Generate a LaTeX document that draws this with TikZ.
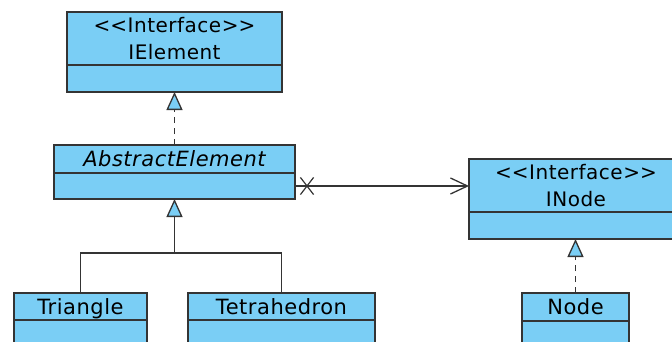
\documentclass[tikz,border=0pt]{standalone}
\usepackage{fontspec}
\setmainfont{DejaVu Sans}[LetterSpace=2.5]
\usepackage{tikz}
\usetikzlibrary{positioning,calc,arrows.meta,shapes.misc}
\definecolor{umlBlue}{RGB}{122,206,245}
\definecolor{umlLine}{RGB}{52,52,52}
\newcommand{\umlFont}{\fontsize{21}{26}\selectfont}
\newcommand{\umlStereoFont}{\fontsize{20}{27}\selectfont}
\newcommand{\stereo}{<\kern0pt<Interface>\kern0pt>}

\begin{document}
\begin{tikzpicture}[x=1pt, y=-1pt,
		classhead/.style={draw=umlLine, fill=umlBlue, line width=1.4pt, inner sep=0pt, outer sep=0pt, align=center, font=\umlFont, text height=15.5pt, text depth=0pt},
		interfacehead/.style={classhead, font=\umlStereoFont, text height=, text depth=},
		classbody/.style={draw=umlLine, fill=umlBlue, line width=1.4pt, inner sep=0pt, outer sep=0pt, below=0pt of #1},
		umlline/.style={draw=umlLine, line width=1.3pt},
		realize/.style={umlline, dash pattern=on 6pt off 5pt, -{Triangle[fill=umlBlue, length=18pt, width=16pt]}},
		inherit/.style={umlline, -{Triangle[fill=umlBlue, length=18pt, width=16pt]}},
		navigable/.style={umlline, -{Straight Barb[length=17pt, width=16pt]}},
		nonav/.style={cross out, draw=umlLine, line width=1.2pt, minimum width=12pt, minimum height=16pt, inner sep=0pt}]
	\useasboundingbox (0,0) rectangle (672,341);
	%interfaces
	\node[interfacehead, minimum width=215pt, minimum height=53pt] (ielement) at (174.5,38.5) {\stereo\\IElement};
	\node[classbody=ielement, minimum width=215pt, minimum height=27pt] (ielement body) {};
	\node[interfacehead, minimum width=214pt, minimum height=53pt] (inode) at (576,185.5) {\stereo\\INode};
	\node[classbody=inode, minimum width=214pt, minimum height=27pt] (inode body) {};
	%classes
	\node[classhead, minimum width=241pt, minimum height=28pt] (abstract) at (174.5,159) {\itshape AbstractElement};
	\node[classbody=abstract, minimum width=241pt, minimum height=26pt] (abstract body) {};
	\node[classhead, minimum width=133pt, minimum height=27pt] (triangle) at (80.5,306.5) {Triangle};
	\node[classbody=triangle, minimum width=133pt, minimum height=28pt] (triangle body) {};
	\node[classhead, minimum width=187pt, minimum height=27pt] (tetra) at (281.5,306.5) {Tetrahedron};
	\node[classbody=tetra, minimum width=187pt, minimum height=28pt] (tetra body) {};
	\node[classhead, minimum width=107pt, minimum height=28pt] (node) at (575.5,307) {Node};
	\node[classbody=node, minimum width=107pt, minimum height=28pt] (node body) {};
	%relations
	\draw[realize] (abstract.north) -- (ielement body.south);
	\draw[realize] (node.north) -- (node.north |- inode body.south);
	\coordinate (fork) at ($(abstract body.south)+(0,54)$);
	\draw[umlline] (triangle.north) |- (fork) -| (tetra.north);
	\draw[inherit] (fork) -- (abstract body.south);
	\draw[navigable] (abstract body.east) -- node[nonav, pos=0.069] (noend) {} (abstract body.east -| inode.west);
\end{tikzpicture}
\end{document}
